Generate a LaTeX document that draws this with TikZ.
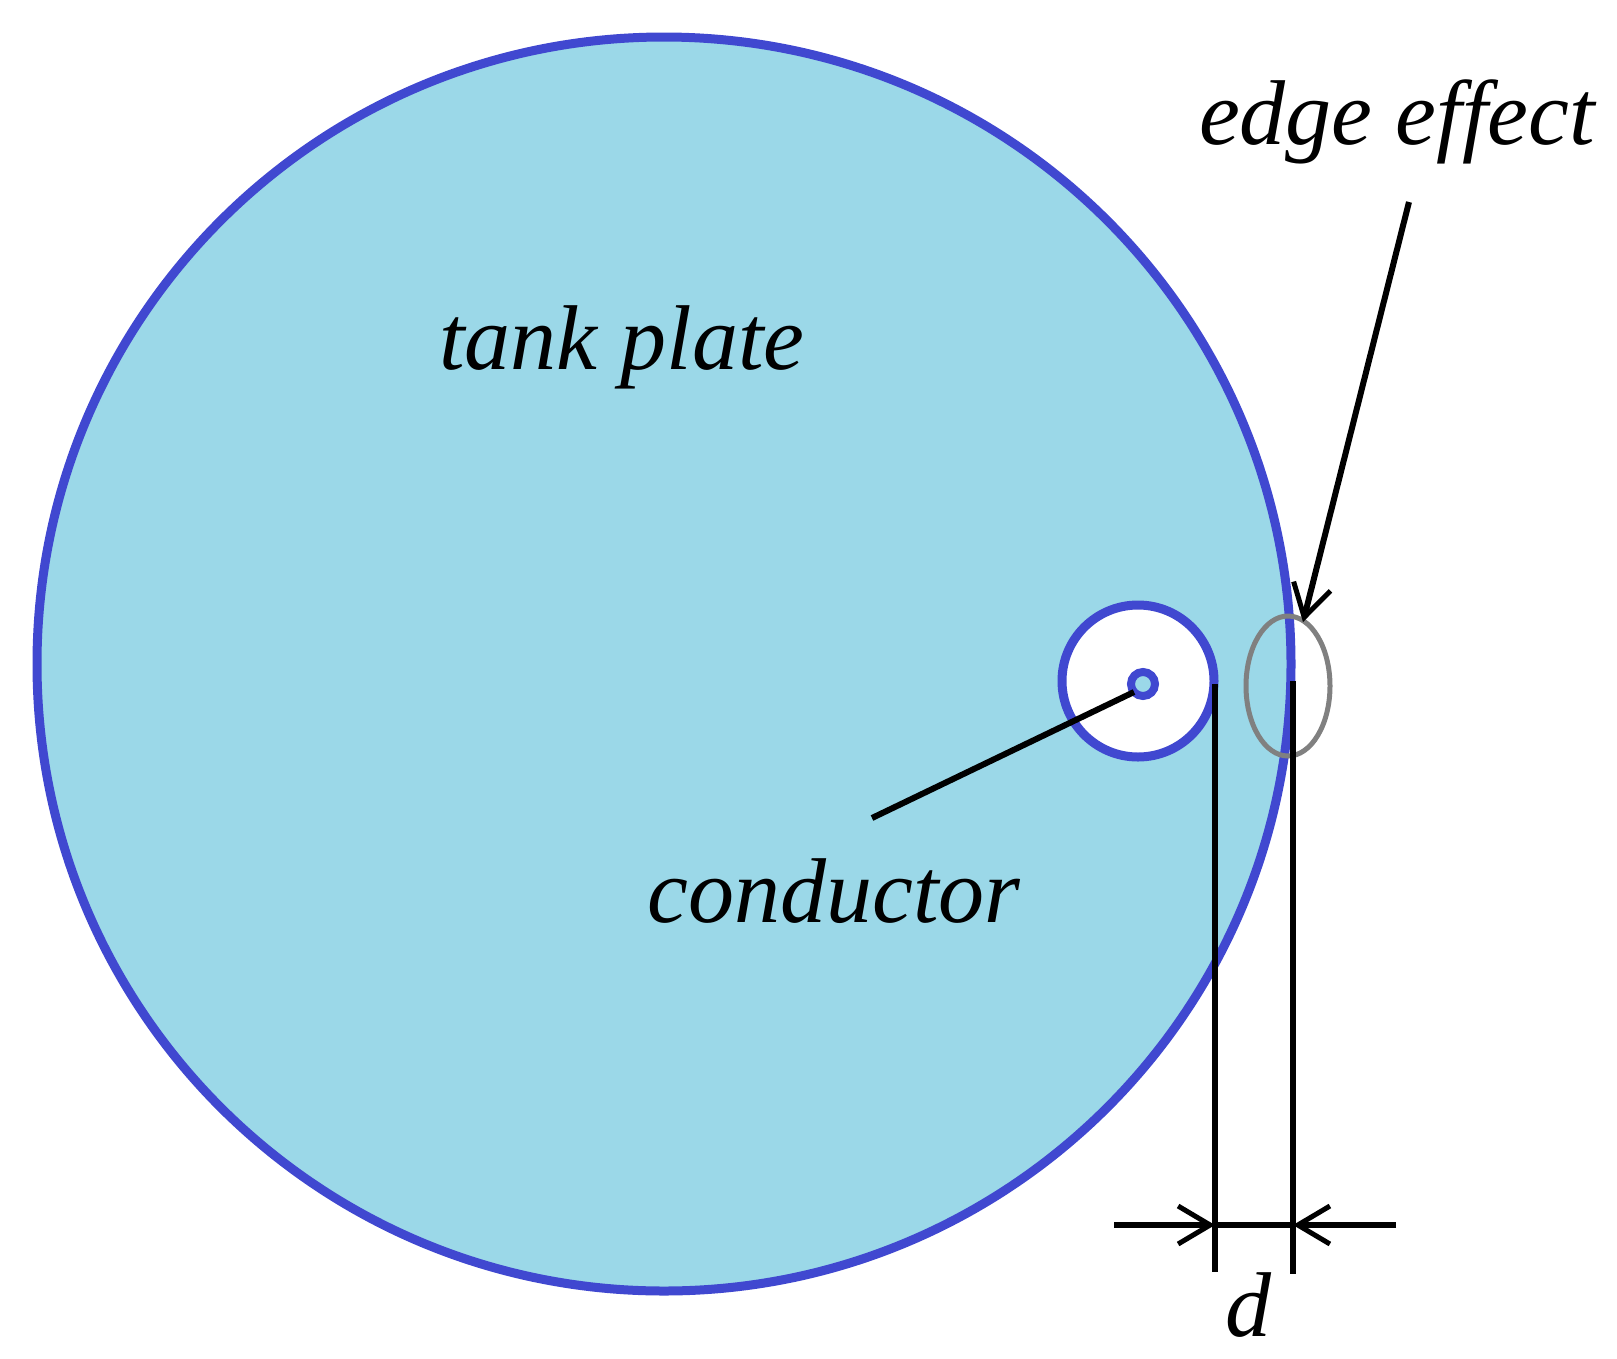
\documentclass[tikz,border=0pt]{standalone}
\usepackage{fontspec}
\setmainfont{Liberation Serif}
\usetikzlibrary{arrows.meta}
\definecolor{plate}{RGB}{155,216,232}
\definecolor{rim}{RGB}{64,72,208}
\tikzset{lbl/.style={font=\fontsize{92}{98}\selectfont\itshape, inner sep=0pt},
  blk/.style={line width=6pt, black},
  open/.style={-{Straight Barb[length=32pt,width=38pt,line width=5pt]}}}
\begin{document}
\begin{tikzpicture}[x=1pt,y=-1pt]
\useasboundingbox (0,0) rectangle (1617,1358);
\draw[line width=9pt, rim, fill=plate] (664,664) circle (627);
\draw[line width=9pt, rim, fill=white] (1138,681) circle (76);
\draw[line width=8pt, rim, fill=plate] (1143,684) circle (12);
\draw[line width=5pt, gray] (1288,686) ellipse (42 and 70);
\coordinate (L1) at (1215,684); \coordinate (L2) at (1215,1272);
\coordinate (R1) at (1293,681); \coordinate (R2) at (1293,1274);
\draw[blk] (L1) -- (L2);
\draw[blk] (R1) -- (R2);
\coordinate (DL) at (1114,1225); \coordinate (DR) at (1396,1225);
\coordinate (DLt) at (1215,1225); \coordinate (DRt) at (1293,1225);
\draw[blk] (DLt) -- (DRt);
\draw[blk, open] (DL) -- (DLt);
\draw[blk, open] (DR) -- (DRt);
\node[lbl] (tp) at (622,347) {tank plate};
\node[lbl] (ee) at (1397,122) {edge effect};
\node[lbl] (cd) at (834,891) {conductor};
\node[lbl] (d) at (1248,1305) {d};
\coordinate (eeS) at (1409,202); \coordinate (eeT) at (1303,622);
\draw[blk, open] (eeS) -- (eeT);
\coordinate (cS) at (872,818); \coordinate (cT) at (1134,692);
\draw[blk] (cS) -- (cT);
\end{tikzpicture}
\end{document}
